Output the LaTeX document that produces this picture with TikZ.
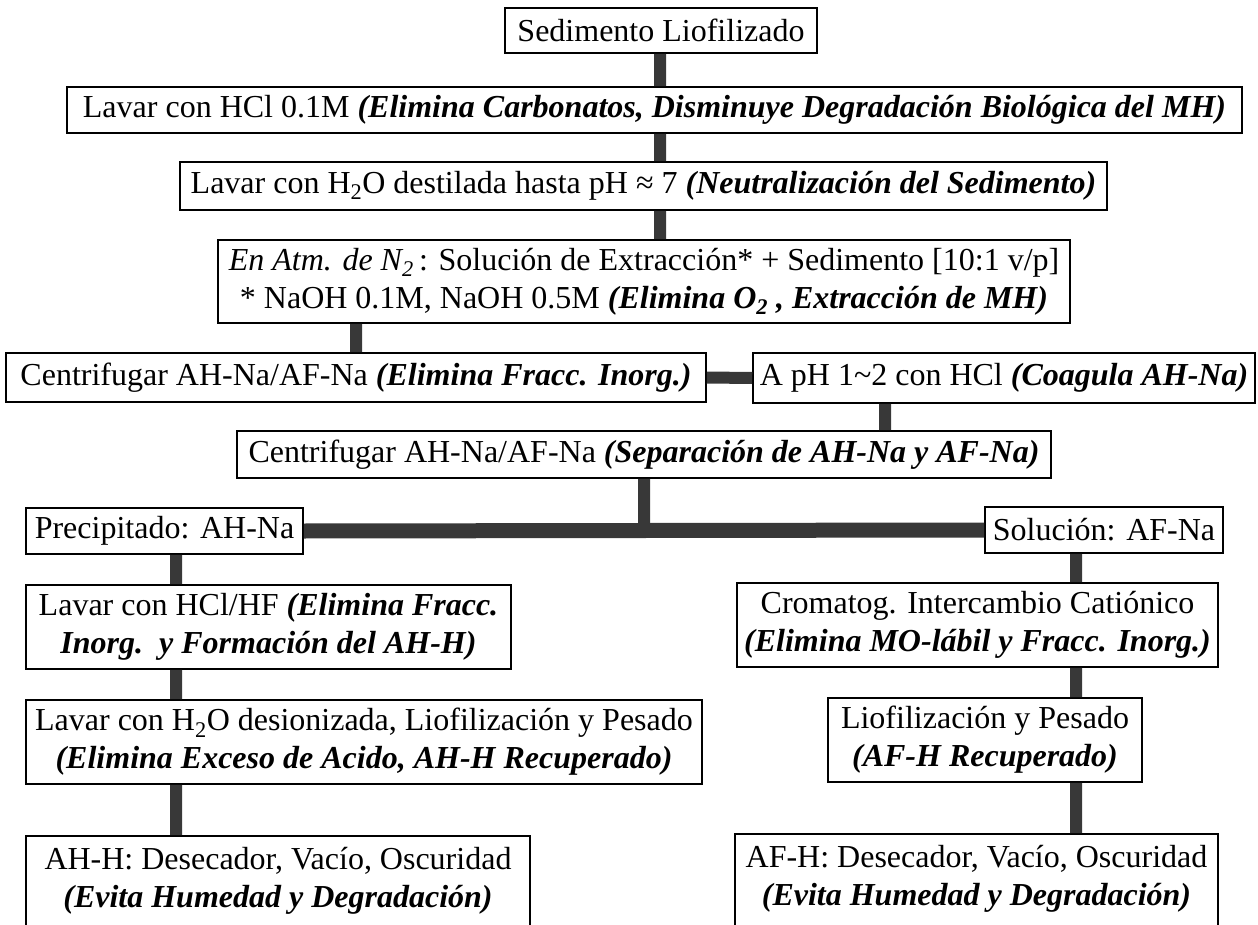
\documentclass[tikz,border=0pt]{standalone}
\usepackage{fontspec}
\setmainfont{Liberation Serif}
\newcommand{\bi}[1]{\textbf{\textit{#1}}}
\tikzset{
  box/.style={draw, line width=1.6pt, fill=white, align=center, inner sep=0pt,
    font=\fontsize{32}{38}\selectfont},
  openbox/.style={box, anchor=north, inner ysep=11pt, text depth=80pt},
  link/.style={line width=12pt, draw=black!78},
}

\begin{document}
\begin{tikzpicture}[x=1pt, y=-1pt]
		\path[use as bounding box] (0,0) rectangle (1258,925);

		% main column
		\node[box, minimum width=312pt, minimum height=45pt] (sed) at (661,30.5) {Sedimento Liofilizado};
		\node[box, minimum width=1175pt, minimum height=46pt] (hcl) at (654.5,110) {Lavar con HCl 0.1M \bi{(Elimina Carbonatos, Disminuye Degradación Biológica del MH)}};
		\node[box, minimum width=927pt, minimum height=48pt] (agua) at (643.5,186) {Lavar con H\textsubscript{2}O destilada hasta pH ≈ 7 \bi{(Neutralización del Sedimento)}};
		\node[box, minimum width=852pt, minimum height=83pt] (atm) at (644,281.5) {\textit{En Atm. de N\textsubscript{2}}\,: Solución de Extracción* + Sedimento [10:1 v/p]\\ * NaOH 0.1M, NaOH 0.5M \bi{(Elimina O\textsubscript{2} , Extracción de MH)}};
		\node[box, minimum width=700pt, minimum height=49pt] (cen) at (356,377.5) {Centrifugar AH-Na/AF-Na \bi{(Elimina Fracc. Inorg.)}};
		\node[box, minimum width=502pt, minimum height=50pt] (coag) at (1004,378) {A pH 1\textasciitilde 2 con HCl \bi{(Coagula AH-Na)}};
		\node[box, minimum width=814pt, minimum height=47pt] (sep) at (644,454.5) {Centrifugar AH-Na/AF-Na \bi{(Separación de AH-Na y AF-Na)}};

		% left branch
		\node[box, minimum width=277pt, minimum height=46pt] (prec) at (164.5,531) {Precipitado: AH-Na};
		\node[box, minimum width=485pt, minimum height=84pt] (hf) at (268.5,627) {Lavar con HCl/HF \bi{(Elimina Fracc.}\\ \bi{Inorg.\ \ y Formación del AH-H)}};
		\node[box, minimum width=676pt, minimum height=84pt] (desion) at (364,742) {Lavar con H\textsubscript{2}O desionizada, Liofilización y Pesado\\ \bi{(Elimina Exceso de Acido, AH-H Recuperado)}};
		\node[openbox, minimum width=504pt] (ahh) at (278,835) {AH-H: Desecador, Vacío, Oscuridad\\ \bi{(Evita Humedad y Degradación)}};

		% right branch
		\node[box, minimum width=238pt, minimum height=46pt] (sol) at (1104,530) {Solución: AF-Na};
		\node[box, minimum width=481pt, minimum height=84pt] (crom) at (977.5,625) {Cromatog. Intercambio Catiónico\\ \bi{(Elimina MO-lábil y Fracc. Inorg.)}};
		\node[box, minimum width=314pt, minimum height=84pt] (lio) at (985,740) {Liofilización y Pesado\\ \bi{(AF-H Recuperado)}};
		\node[openbox, minimum width=483pt] (afh) at (976.5,833) {AF-H: Desecador, Vacío, Oscuridad\\ \bi{(Evita Humedad y Degradación)}};

		% links
		\coordinate (lcol) at (176,0);
		\coordinate (rcol) at (1076,0);
		\coordinate (ccol) at (885,0);
		\draw[link] (sed.south -| 660,0) -- (hcl.north -| 660,0)
		(hcl.south -| 660,0) -- (agua.north -| 660,0)
		(agua.south -| 660,0) -- (atm.north -| 660,0)
		(cen.north |- atm.south) -- (cen.north)
		(cen.east) -- (coag.west)
		(ccol |- coag.south) -- (ccol |- sep.north)
		(sep.south) -- (sep.south |- prec.east)
		(lcol |- prec.south) -- (lcol |- hf.north)
		(lcol |- hf.south) -- (lcol |- desion.north)
		(lcol |- desion.south) -- (lcol |- ahh.north)
		(rcol |- sol.south) -- (rcol |- crom.north)
		(rcol |- crom.south) -- (rcol |- lio.north)
		(rcol |- lio.south) -- (rcol |- afh.north);
		\draw[link, line width=15pt] (prec.east) -- (sol.west);

	\end{tikzpicture}
\end{document}
